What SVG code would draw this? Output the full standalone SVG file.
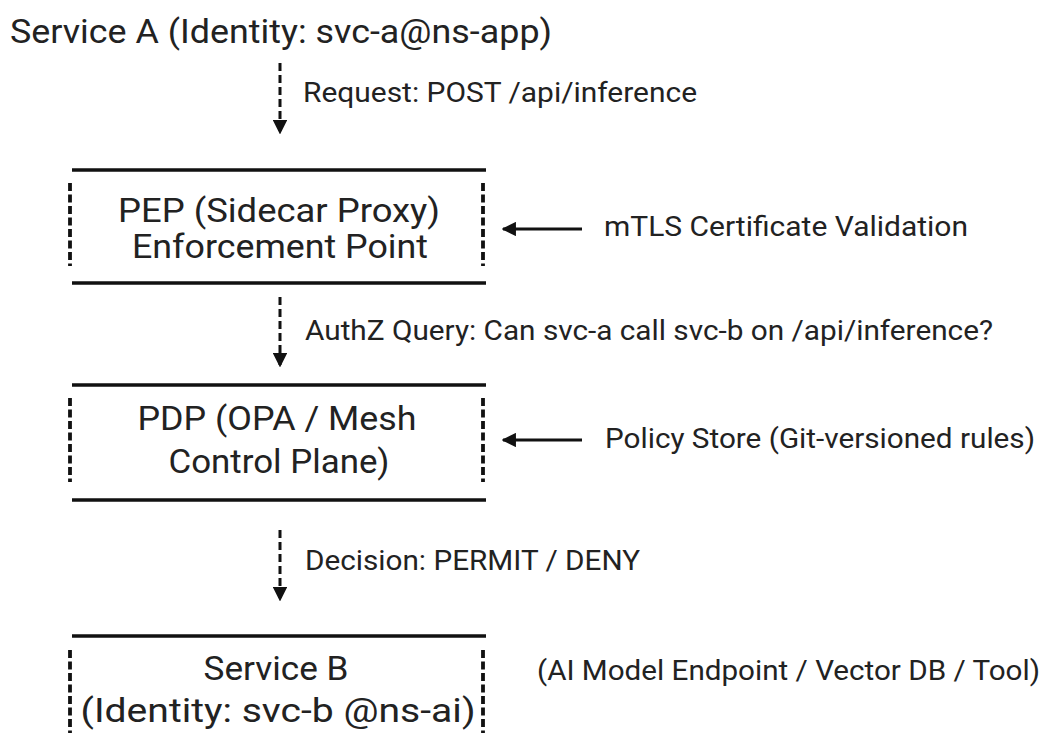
<svg xmlns="http://www.w3.org/2000/svg" width="1048" height="745" viewBox="0 0 1048 745">
  <defs>
    <marker id="head" viewBox="0 0 10 10" refX="9" refY="5" markerWidth="4.8" markerHeight="4.8" orient="auto" markerUnits="strokeWidth">
      <path d="M0,0 L10,5 L0,10 z" fill="#111"/>
    </marker>
    <style>
      .t { font-family: Roboto, "Liberation Sans", sans-serif; fill: #222; }
      .big { font-size: 33px; }
      .lbl { font-size: 27px; }
      .mid { text-anchor: middle; }
      .rule { stroke: #111; stroke-width: 3.5; fill: none; }
      .side { stroke: #111; stroke-width: 3.8; stroke-dasharray: 8 3.5; fill: none; }
      .flow { stroke: #111; stroke-width: 3; stroke-dasharray: 8 4; fill: none; marker-end: url(#head); }
      .feed { stroke: #111; stroke-width: 3; fill: none; marker-end: url(#head); }
    </style>
  </defs>
  <rect width="1048" height="745" fill="#fff"/>

  <g id="service-a">
    <text class="t big" x="10" y="43" textLength="542" lengthAdjust="spacingAndGlyphs">Service A (Identity: svc-a@ns-app)</text>
  </g>

  <g id="pep">
    <line class="rule" x1="72" y1="170" x2="486" y2="170"/>
    <line class="rule" x1="72" y1="283" x2="486" y2="283"/>
    <line class="side" x1="70" y1="183" x2="70" y2="266"/>
    <line class="side" x1="483" y1="183" x2="483" y2="266"/>
    <text class="t big mid" x="279" y="222" textLength="322" lengthAdjust="spacingAndGlyphs">PEP (Sidecar Proxy)</text>
    <text class="t big mid" x="280" y="258" textLength="296" lengthAdjust="spacingAndGlyphs">Enforcement Point</text>
  </g>

  <g id="pdp">
    <line class="rule" x1="72" y1="385" x2="486" y2="385"/>
    <line class="rule" x1="72" y1="500" x2="486" y2="500"/>
    <line class="side" x1="70" y1="398" x2="70" y2="482"/>
    <line class="side" x1="483" y1="398" x2="483" y2="482"/>
    <text class="t big mid" x="277" y="430" textLength="279" lengthAdjust="spacingAndGlyphs">PDP (OPA / Mesh</text>
    <text class="t big mid" x="279" y="473" textLength="221" lengthAdjust="spacingAndGlyphs">Control Plane)</text>
  </g>

  <g id="service-b">
    <line class="rule" x1="72" y1="636" x2="486" y2="636"/>
    <line class="side" x1="70" y1="650" x2="70" y2="733"/>
    <line class="side" x1="483" y1="650" x2="483" y2="733"/>
    <text class="t big mid" x="276" y="680" textLength="145" lengthAdjust="spacingAndGlyphs">Service B</text>
    <text class="t big mid" x="278" y="722" textLength="395" lengthAdjust="spacingAndGlyphs">(Identity: svc-b @ns-ai)</text>
  </g>

  <g id="mtls">
    <text class="t lbl" x="604" y="236" textLength="364" lengthAdjust="spacingAndGlyphs">mTLS Certificate Validation</text>
  </g>

  <g id="policy-store">
    <text class="t lbl" x="605" y="448" textLength="430" lengthAdjust="spacingAndGlyphs">Policy Store (Git-versioned rules)</text>
  </g>

  <g id="targets">
    <text class="t lbl" x="537" y="680" textLength="503" lengthAdjust="spacingAndGlyphs">(AI Model Endpoint / Vector DB / Tool)</text>
  </g>

  <g id="connectors">
    <line class="flow" x1="280" y1="63" x2="280" y2="133"/>
    <text class="t lbl" x="303" y="102" textLength="394" lengthAdjust="spacingAndGlyphs">Request: POST /api/inference</text>
    <line class="flow" x1="280" y1="297" x2="280" y2="366"/>
    <text class="t lbl" x="305" y="340" textLength="688" lengthAdjust="spacingAndGlyphs">AuthZ Query: Can svc-a call svc-b on /api/inference?</text>
    <line class="flow" x1="280" y1="530" x2="280" y2="600"/>
    <text class="t lbl" x="305" y="570" textLength="335" lengthAdjust="spacingAndGlyphs">Decision: PERMIT / DENY</text>
    <line class="feed" x1="582" y1="229" x2="503" y2="229"/>
    <line class="feed" x1="582" y1="440" x2="503" y2="440"/>
  </g>
</svg>
